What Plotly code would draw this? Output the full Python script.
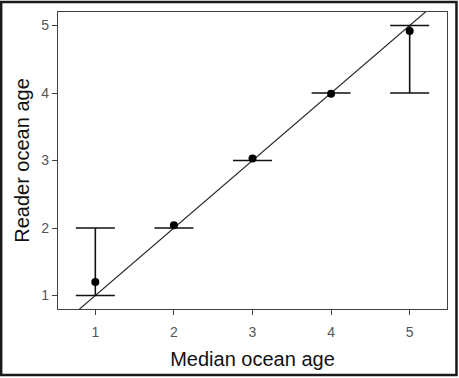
import plotly.graph_objects as go

median_age = [1, 2, 3, 4, 5]
reader_mean = [1.2, 2.04, 3.03, 3.99, 4.92]
reader_min = [1, 2, 3, 4, 4]
reader_max = [2, 2, 3, 4, 5]
identity_x = [0, 6]
identity_y = [0, 6]
tick_vals = [1, 2, 3, 4, 5]

W, H = 459, 378
L, R, T, B = 58, 11, 11, 68
pw, ph = W - L - R, H - T - B

def px2paper(x, y):
    return (x - L) / pw, (H - B - y) / ph

fig = go.Figure()

fig.add_trace(go.Scatter(
    x=identity_x, y=identity_y, mode="lines",
    line=dict(color="#2a2a2a", width=1.2), showlegend=False, hoverinfo="skip"))

mid = [(a + b) / 2 for a, b in zip(reader_min, reader_max)]
half = [(b - a) / 2 for a, b in zip(reader_min, reader_max)]
fig.add_trace(go.Scatter(
    x=median_age, y=mid, mode="markers",
    marker=dict(size=1, color="rgba(0,0,0,0)"),
    error_y=dict(type="data", array=half, symmetric=True,
                 color="#111111", thickness=1.6, width=19.5),
    showlegend=False, hoverinfo="skip"))

fig.add_trace(go.Scatter(
    x=median_age, y=reader_mean, mode="markers",
    marker=dict(size=8, color="black"), showlegend=False))

x0, y0 = px2paper(1, 1)
x1, y1 = px2paper(457.5, 376.5)
fig.add_shape(type="rect", xref="paper", yref="paper",
              x0=x0, y0=y1, x1=x1, y1=y0,
              line=dict(color="#1a1a1a", width=2.5), layer="above")

axis_common = dict(
    showgrid=False, zeroline=False, showline=True, mirror=True,
    linecolor="#404040", linewidth=1.2, ticks="outside", ticklen=5,
    tickcolor="#404040", tickwidth=1.2,
    tickfont=dict(family="Liberation Sans, Arial", size=14, color="#555555"),
    tickvals=tick_vals,
    title_font=dict(family="Liberation Sans, Arial", size=20, color="#111111"),
)

fig.update_xaxes(range=[0.525, 5.475], title_text="Median ocean age",
                 title_standoff=13, ticklabelstandoff=5, **axis_common)
fig.update_yaxes(range=[0.8, 5.2], title_text="Reader ocean age",
                 title_standoff=6, **axis_common)

fig.update_layout(
    width=W, height=H,
    margin=dict(l=L, r=R, t=T, b=B),
    plot_bgcolor="white", paper_bgcolor="white",
    showlegend=False,
)

fig.write_html("out.html")
